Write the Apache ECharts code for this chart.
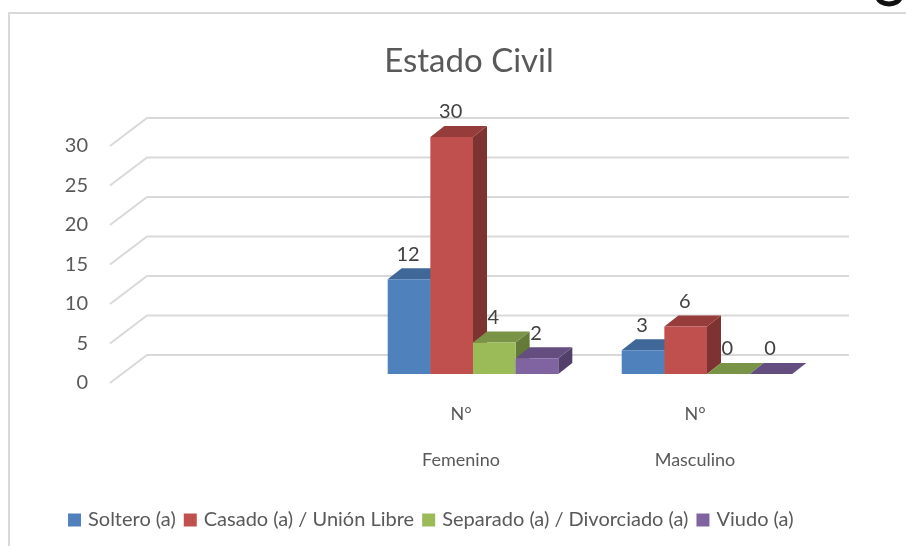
<!DOCTYPE html>
<html><head><meta charset="utf-8">
<style>html,body{margin:0;padding:0;background:#fff}#c{width:906px;height:546px}</style>
<script src="https://cdn.jsdelivr.net/npm/echarts@6/dist/echarts.min.js"></script>
</head><body><div id="c"></div>
<script>
const categories = ['', 'Femenino', 'Masculino'];
const subLabels = ['', 'N°', 'N°'];
const yTicks = [0, 5, 10, 15, 20, 25, 30];
const seriesNames = ['Soltero (a)', 'Casado (a) / Unión Libre', 'Separado (a) / Divorciado (a)', 'Viudo (a)'];
const soltero = [null, 12, 3];
const casado = [null, 30, 6];
const separado = [null, 4, 0];
const viudo = [null, 2, 0];
const seriesValues = [soltero, casado, separado, viudo];
const frontColors = ['#4f81bd', '#c0504d', '#9bbb59', '#8064a2'];
const topColors = ['#3f6797', '#963d3b', '#7a9447', '#644e80'];
const sideColors = ['#34547b', '#7c3331', '#637a38', '#523f6a'];

const WALL_DX = 37, WALL_DY = 28;
const BAR_DX = 14, BAR_DY = 11, BAR_SHIFT_X = 12, BAR_SHIFT_Y = -9, GROUP = 0.729;

function gridRender(params, api) {
  const p = api.coord([0, api.value(1)]);
  const cs = params.coordSys;
  const y = p[1];
  return {
    type: 'polyline',
    shape: { points: [[cs.x, y], [cs.x + WALL_DX, y - WALL_DY], [cs.x + cs.width + WALL_DX, y - WALL_DY]] },
    style: { stroke: '#d9d9d9', lineWidth: 2, fill: null }
  };
}
function barRender(si) {
  return function (params, api) {
    const v = api.value(1);
    const c = api.coord([api.value(0), v]);
    const base = api.coord([api.value(0), 0]);
    const w = api.size([1, 0])[0] * GROUP / 4;
    const x0 = c[0] + BAR_SHIFT_X - 2 * w + si * w;
    const x1 = x0 + w;
    const top = c[1] + BAR_SHIFT_Y;
    const bot = base[1] + BAR_SHIFT_Y;
    const kids = [];
    kids.push({ type: 'polygon', shape: { points: [[x1, top], [x1 + BAR_DX, top - BAR_DY], [x1 + BAR_DX, bot - BAR_DY], [x1, bot]] }, style: { fill: sideColors[si] } });
    kids.push({ type: 'polygon', shape: { points: [[x0, top], [x0 + BAR_DX, top - BAR_DY], [x1 + BAR_DX, top - BAR_DY], [x1, top]] }, style: { fill: topColors[si] } });
    kids.push({ type: 'rect', shape: { x: x0, y: top, width: w, height: bot - top }, style: { fill: frontColors[si] } });
    kids.push({ type: 'text', z2: 10, style: { text: String(v), x: (x0 + x1) / 2 - 1, y: top - 25, align: 'center', verticalAlign: 'middle', fill: '#404040', font: '20px Lato' } });
    return { type: 'group', children: kids };
  };
}
const chart = echarts.init(document.getElementById('c'), null, { renderer: 'canvas' });
chart.setOption({
  animation: false,
  backgroundColor: '#fff',
  title: { text: 'Estado Civil', left: 464, top: 40, textAlign: 'center', textStyle: { fontFamily: 'Lato', fontWeight: 'normal', fontSize: 33, color: '#595959' } },
  legend: {
    data: seriesNames, left: 63, top: 505, itemWidth: 13, itemHeight: 13, itemGap: 8, icon: 'rect',
    textStyle: { fontFamily: 'Lato', fontSize: 20, color: '#595959', padding: [0, 0, 0, 2] }
  },
  grid: { left: 110, right: 94, top: 146, bottom: 163 },
  xAxis: {
    type: 'category', data: categories, axisLine: { show: false }, axisTick: { show: false }, splitLine: { show: false },
    axisLabel: {
      margin: 20, interval: 0, fontFamily: 'Lato', fontSize: 18, lineHeight: 23, color: '#595959',
      formatter: (val, i) => val ? subLabels[i] + '\n\n' + val : ''
    }
  },
  yAxis: {
    type: 'value', min: 0, max: 30, interval: 5, axisLine: { show: false }, axisTick: { show: false }, splitLine: { show: false },
    axisLabel: { margin: 22, fontFamily: 'Lato', fontSize: 20, color: '#595959' }
  },
  graphic: [
    { type: 'polyline', silent: true, shape: { points: [[9, 546], [9, 13], [906, 13]] }, style: { stroke: '#d9d9d9', lineWidth: 2, fill: null } },
    { type: 'ellipse', silent: true, shape: { cx: 889, cy: -3, rx: 11, ry: 7 }, style: { stroke: '#111', lineWidth: 5, fill: '#fff' } }
  ],
  series: [
    { type: 'custom', name: 'grid', coordinateSystem: 'cartesian2d', silent: true, z: 1, data: yTicks.map(t => [0, t]), renderItem: gridRender, encode: { x: 0, y: 1 } }
  ].concat(seriesValues.map((vals, si) => ({
    type: 'custom', name: seriesNames[si], coordinateSystem: 'cartesian2d', z: 2 + si,
    itemStyle: { color: frontColors[si] }, encode: { x: 0, y: 1 },
    data: vals.map((v, i) => [i, v]).filter(d => d[1] !== null),
    renderItem: barRender(si)
  })))
});
</script></body></html>
